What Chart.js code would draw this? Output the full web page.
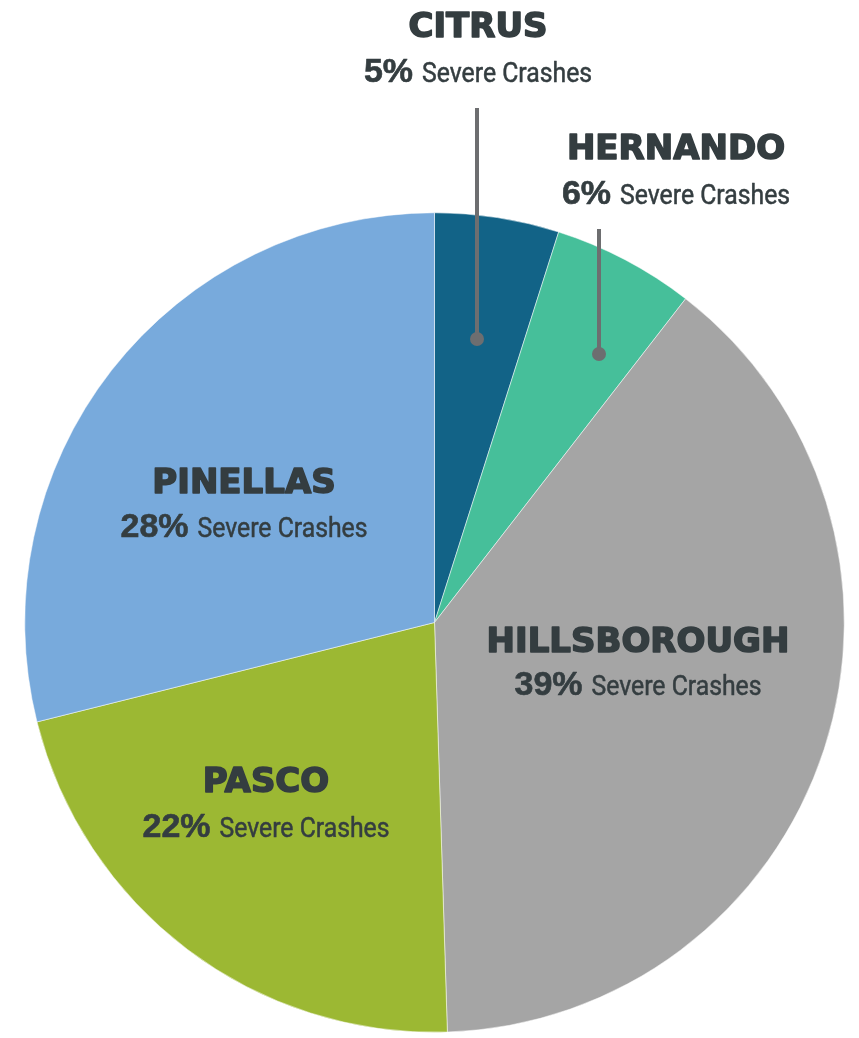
<!DOCTYPE html>
<html>
<head>
<meta charset="utf-8">
<script src="https://cdn.jsdelivr.net/npm/chart.js@4.4.1/dist/chart.umd.min.js"></script>
<style>
  html, body { margin: 0; padding: 0; background: #ffffff; }
  #wrap { width: 859px; height: 1038px; position: relative; }
</style>
</head>
<body>
<div id="wrap"><canvas id="pie" width="859" height="1038"></canvas></div>
<script>
// Severe crashes share by county (clockwise from 12 o'clock)
var counties = ['CITRUS', 'HERNANDO', 'HILLSBOROUGH', 'PASCO', 'PINELLAS'];
var shares = [4.9, 5.6, 39.0, 21.6, 28.9];
var shareLabels = ['5%', '6%', '39%', '22%', '28%'];
var sliceColors = ['#126387', '#46BF9A', '#A5A5A5', '#9CB833', '#78AADC'];

var TEXT = '#343D40';
var LEADER = '#6D6E70';

// where each label block sits (name baseline, detail baseline, centre x)
var labelSpots = [
  { x: 478, y1: 37,  y2: 82,  leader: { x: 477, top: 108, bottom: 339 } },
  { x: 676, y1: 159, y2: 204, leader: { x: 599, top: 229, bottom: 354 } },
  { x: 638, y1: 652, y2: 695 },
  { x: 266, y1: 792, y2: 837 },
  { x: 244, y1: 493, y2: 537 }
];

var NAME_FONT = 'bold 34px "DejaVu Sans", sans-serif';
var PCT_FONT = 'bold 34px "Liberation Sans", Arial, sans-serif';
var REST_FONT = '27px Roboto, "DejaVu Sans", sans-serif';
var REST_WIDTH = 170; // condensed look: squeeze the phrase to this width

var countyLabels = {
  id: 'countyLabels',
  afterDraw: function(chart) {
    var ctx = chart.ctx;
    ctx.save();
    labelSpots.forEach(function(s, i) {
      if (s.leader) {
        ctx.strokeStyle = LEADER;
        ctx.lineWidth = 4;
        ctx.beginPath();
        ctx.moveTo(s.leader.x, s.leader.top);
        ctx.lineTo(s.leader.x, s.leader.bottom);
        ctx.stroke();
        ctx.fillStyle = LEADER;
        ctx.beginPath();
        ctx.arc(s.leader.x, s.leader.bottom, 7, 0, Math.PI * 2);
        ctx.fill();
      }
      ctx.fillStyle = TEXT;
      ctx.strokeStyle = TEXT;
      ctx.lineJoin = 'round';
      ctx.textBaseline = 'alphabetic';
      ctx.textAlign = 'center';
      ctx.font = NAME_FONT;
      // heavier than plain bold in the original
      ctx.lineWidth = 1.6;
      ctx.strokeText(counties[i], s.x, s.y1);
      ctx.fillText(counties[i], s.x, s.y1);

      // "NN%" bold + "Severe Crashes", centred as one line
      ctx.textAlign = 'left';
      ctx.font = PCT_FONT;
      var wPct = ctx.measureText(shareLabels[i]).width;
      ctx.font = REST_FONT;
      var rest = 'Severe Crashes';
      var wRaw = ctx.measureText(rest).width;
      var gap = 9;
      var x0 = s.x - (wPct + gap + REST_WIDTH) / 2;
      ctx.font = PCT_FONT;
      ctx.lineWidth = 0.6;
      ctx.strokeText(shareLabels[i], x0, s.y2);
      ctx.fillText(shareLabels[i], x0, s.y2);
      ctx.font = REST_FONT;
      ctx.save();
      ctx.translate(x0 + wPct + gap, s.y2);
      ctx.scale(REST_WIDTH / wRaw, 1);
      ctx.lineWidth = 0.5;
      ctx.strokeText(rest, 0, 0);
      ctx.fillText(rest, 0, 0);
      ctx.restore();
    });
    ctx.restore();
  }
};

var canvas = document.getElementById('pie');
new Chart(canvas.getContext('2d'), {
  type: 'pie',
  data: {
    labels: counties,
    datasets: [{
      data: shares,
      backgroundColor: sliceColors,
      borderColor: '#ffffff',
      borderWidth: 0.5,
      hoverBorderWidth: 0.5,
      hoverOffset: 0
    }]
  },
  options: {
    responsive: false,
    animation: false,
    events: [],
    devicePixelRatio: 1,
    layout: { padding: { left: 24.5, right: 14.5, top: 212.5, bottom: 5.5 } },
    plugins: {
      legend: { display: false },
      tooltip: { enabled: false },
      title: { display: false }
    }
  },
  plugins: [countyLabels]
});
</script>
</body>
</html>
